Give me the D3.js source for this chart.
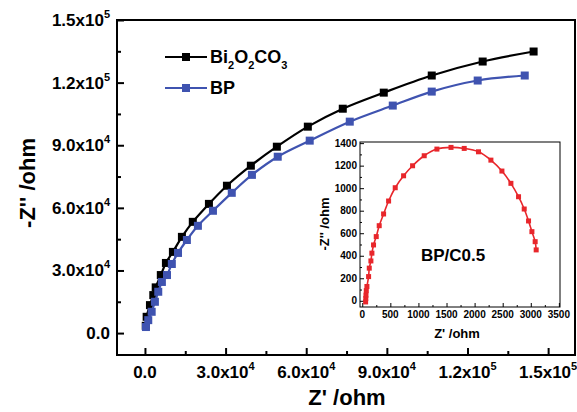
<!DOCTYPE html>
<html><head><meta charset="utf-8">
<script src="https://cdn.jsdelivr.net/npm/d3@7"></script>
<style>
body{margin:0;background:#fff;}
svg{display:block;font-family:"Liberation Sans",Arial,sans-serif;font-weight:bold;}
</style></head>
<body><svg id="c" width="577" height="412"></svg>
<script>
// ---- data ----
const seriesNames = ["Bi_2O_2CO_3", "BP"];
const seriesColors = ["#000000", "#3f53b0"];
const biX = [300,630,1860,3100,4000,5900,7800,10400,13750,17800,23800,30500,39400,49070,60600,73600,88850,106700,125650,144600];
const biY = [3500,7800,13400,18200,21900,27800,33600,38900,46100,53300,61900,70600,80200,89300,98900,107500,115200,123400,130100,134900];
const bpX = [370,1230,2500,3700,4950,6300,8200,10000,12300,15600,19700,25300,32300,39800,49400,61300,76200,92200,106700,123800,141300];
const bpY = [2900,6200,10200,15000,19800,24500,27800,33100,38400,44600,51400,58600,67200,75800,84500,92200,101300,109000,115700,121000,123400];
const insetName = "BP/C0.5";
const insetX = [60,63,66,72,83,113,125,154,172,201,249,302,380,469,587,736,896,1103,1329,1580,1815,2069,2290,2486,2646,2782,2883,2960,3020,3078,3096];
const insetY = [-10,20,50,90,127,215,290,354,423,496,570,667,771,886,1004,1110,1199,1288,1347,1362,1353,1323,1249,1152,1043,924,815,709,614,525,452];
const mainTicks = [0,30000,60000,90000,120000,150000];
const mainMinor = [15000,45000,75000,105000,135000];
const mainTickLabels = ["0.0","3.0x10^4","6.0x10^4","9.0x10^4","1.2x10^5","1.5x10^5"];
const insetXTicks = [0,500,1000,1500,2000,2500,3000,3500];
const insetXMinor = [250,750,1250,1750,2250,2750,3250];
const insetYTicks = [0,200,400,600,800,1000,1200,1400];
const insetYMinor = [100,300,500,700,900,1100,1300];
const xTitle = "Z' /ohm", yTitle = "-Z'' /ohm";

const svg = d3.select("#c");

// ---- main plot ----
const L=117,R=575,T=20,B=355;
const x = d3.scaleLinear().domain([-10400,160000]).range([L,R]);
const y = d3.scaleLinear().domain([-10500,150000]).range([B,T]);

svg.append("g").attr("transform",`translate(0,${B})`)
  .call(d3.axisBottom(x).tickValues(mainTicks).tickSize(-7).tickFormat(""))
  .call(g=>g.select(".domain").remove()).selectAll("line").attr("stroke-width",2);
svg.append("g").attr("transform",`translate(0,${B})`)
  .call(d3.axisBottom(x).tickValues(mainMinor).tickSize(-4).tickFormat(""))
  .call(g=>g.select(".domain").remove()).selectAll("line").attr("stroke-width",2);
svg.append("g").attr("transform",`translate(${L},0)`)
  .call(d3.axisLeft(y).tickValues(mainTicks).tickSize(-7).tickFormat(""))
  .call(g=>g.select(".domain").remove()).selectAll("line").attr("stroke-width",2);
svg.append("g").attr("transform",`translate(${L},0)`)
  .call(d3.axisLeft(y).tickValues(mainMinor).tickSize(-4).tickFormat(""))
  .call(g=>g.select(".domain").remove()).selectAll("line").attr("stroke-width",2);
svg.append("rect").attr("x",L).attr("y",T).attr("width",R-L).attr("height",B-T)
  .attr("fill","none").attr("stroke","#000").attr("stroke-width",2);

function supLabel(sel, s, fs, sfs, dy){
  const p = s.split("^");
  sel.append("tspan").text(p[0]).attr("font-size",fs);
  if(p[1]) sel.append("tspan").text(p[1]).attr("font-size",sfs).attr("dy",dy);
}
mainTicks.forEach((v,i)=>{
  const t = svg.append("text").attr("x",x(v)).attr("y",378).attr("text-anchor","middle");
  supLabel(t, mainTickLabels[i], 17, 11, -8);
  const t2 = svg.append("text").attr("x",110).attr("y",y(v)+6).attr("text-anchor","end");
  supLabel(t2, mainTickLabels[i], 17, 11, -8);
});
svg.append("text").attr("x",347).attr("y",405).attr("text-anchor","middle").attr("font-size",22).text(xTitle);
svg.append("text").attr("transform","translate(35,183) rotate(-90)").attr("text-anchor","middle").attr("font-size",22).text(yTitle);

const line = d3.line().x(d=>x(d[0])).y(d=>y(d[1])).curve(d3.curveCatmullRom);
const series = [d3.zip(biX,biY), d3.zip(bpX,bpY)];
series.forEach((d,i)=>{
  svg.append("path").datum(d).attr("d",line).attr("fill","none").attr("stroke",seriesColors[i]).attr("stroke-width",2.2);
  svg.append("g").selectAll("rect").data(d).join("rect")
    .attr("x",p=>x(p[0])-4).attr("y",p=>y(p[1])-4).attr("width",8).attr("height",8).attr("fill",seriesColors[i]);
});

// legend
seriesNames.forEach((n,i)=>{
  const ly = 57 + i*31;
  svg.append("line").attr("x1",165).attr("x2",207).attr("y1",ly).attr("y2",ly).attr("stroke",seriesColors[i]).attr("stroke-width",2.2);
  svg.append("rect").attr("x",186-4).attr("y",ly-4).attr("width",8).attr("height",8).attr("fill",seriesColors[i]);
  const t = svg.append("text").attr("x",210).attr("y",ly+6).attr("font-size",18);
  const parts = n.split("_");
  parts.forEach((p,j)=>{
    if(j===0){ t.append("tspan").text(p); }
    else {
      t.append("tspan").text(p[0]).attr("font-size",11).attr("dy",6);
      if(p.length>1) t.append("tspan").text(p.slice(1)).attr("dy",-6);
    }
  });
});

// ---- inset ----
const iL=360,iR=560,iT=142,iB=307;
const ix = d3.scaleLinear().domain([-40,3520]).range([iL,iR]);
const iy = d3.scaleLinear().domain([-55,1410]).range([iB,iT]);
svg.append("rect").attr("x",iL).attr("y",iT).attr("width",iR-iL).attr("height",iB-iT).attr("fill","#fff");
svg.append("g").attr("transform",`translate(0,${iB})`)
  .call(d3.axisBottom(ix).tickValues(insetXTicks).tickSize(-4).tickFormat(""))
  .call(g=>g.select(".domain").remove());
svg.append("g").attr("transform",`translate(0,${iB})`)
  .call(d3.axisBottom(ix).tickValues(insetXMinor).tickSize(-2).tickFormat(""))
  .call(g=>g.select(".domain").remove());
svg.append("g").attr("transform",`translate(${iL},0)`)
  .call(d3.axisLeft(iy).tickValues(insetYTicks).tickSize(-4).tickFormat(""))
  .call(g=>g.select(".domain").remove());
svg.append("g").attr("transform",`translate(${iL},0)`)
  .call(d3.axisLeft(iy).tickValues(insetYMinor).tickSize(-2).tickFormat(""))
  .call(g=>g.select(".domain").remove());
svg.append("rect").attr("x",iL).attr("y",iT).attr("width",iR-iL).attr("height",iB-iT)
  .attr("fill","none").attr("stroke","#000").attr("stroke-width",1);
insetXTicks.forEach(v=>{
  svg.append("text").attr("x",ix(v)).attr("y",318).attr("text-anchor","middle").attr("font-size",10).text(v);
});
insetYTicks.forEach(v=>{
  svg.append("text").attr("x",iL-3).attr("y",iy(v)+3.5).attr("text-anchor","end").attr("font-size",10).text(v);
});
svg.append("text").attr("x",457).attr("y",338).attr("text-anchor","middle").attr("font-size",13).text(xTitle);
svg.append("text").attr("transform","translate(329,224) rotate(-90)").attr("text-anchor","middle").attr("font-size",13).text(yTitle);
svg.append("text").attr("x",453).attr("y",261).attr("text-anchor","middle").attr("font-size",17).text(insetName);

const iline = d3.line().x(d=>ix(d[0])).y(d=>iy(d[1])).curve(d3.curveCatmullRom);
const idata = d3.zip(insetX, insetY);
svg.append("path").datum(idata).attr("d",iline).attr("fill","none").attr("stroke","#e8262b").attr("stroke-width",1.6);
svg.append("g").selectAll("rect").data(idata).join("rect")
  .attr("x",p=>ix(p[0])-2.5).attr("y",p=>iy(p[1])-2.5).attr("width",5).attr("height",5).attr("fill","#e8262b");
</script></body></html>
